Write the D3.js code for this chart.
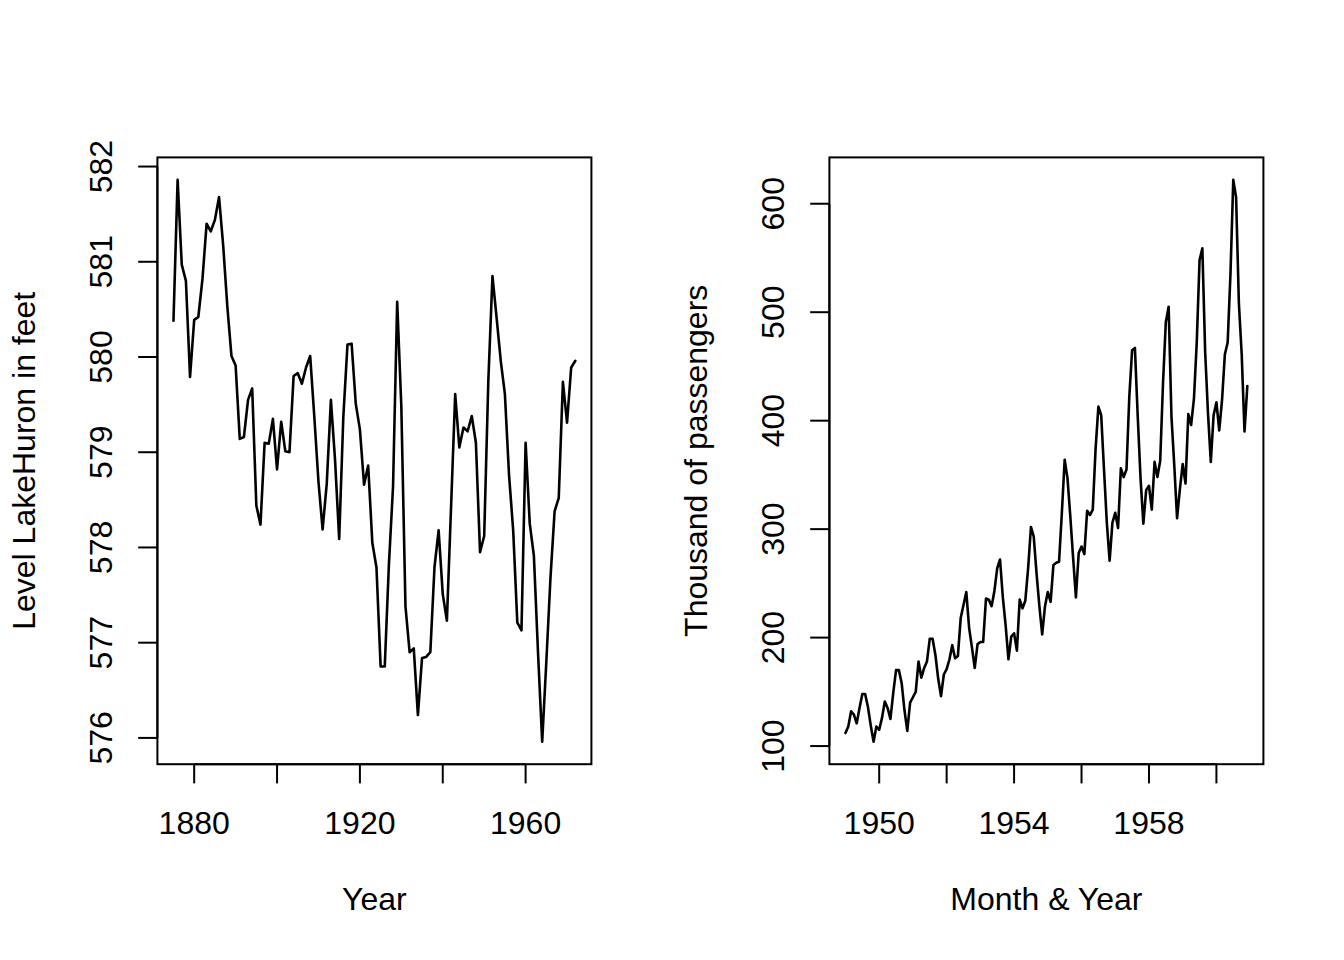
<!DOCTYPE html>
<html lang="en">
<head>
<meta charset="UTF-8">
<title>LakeHuron and AirPassengers</title>
<script src="https://d3js.org/d3.v7.min.js"></script>
<style>
  body { margin: 0; background: #fff; }
  svg { font-family: "Liberation Sans", Arial, sans-serif; }
  .frame { fill: none; stroke: #000; stroke-width: 2px; }
  .tick { stroke: #000; stroke-width: 2px; }
  .series { fill: none; stroke: #000; stroke-width: 2.6px; stroke-linejoin: round; stroke-linecap: round; }
  text { font-size: 32px; fill: #000; }
</style>
</head>
<body>
<div id="chart"></div>
<script>
// Lake Huron level, one value per year from 1875
var huronStart = 1875;
var huronLevel = [
  580.38, 581.86, 580.97, 580.80, 579.79, 580.39, 580.42, 580.82, 581.40, 581.32,
  581.44, 581.68, 581.17, 580.53, 580.01, 579.91, 579.14, 579.16, 579.55, 579.67,
  578.44, 578.24, 579.10, 579.09, 579.35, 578.82, 579.32, 579.01, 579.00, 579.80,
  579.83, 579.72, 579.89, 580.01, 579.37, 578.69, 578.19, 578.67, 579.55, 578.92,
  578.09, 579.37, 580.13, 580.14, 579.51, 579.24, 578.66, 578.86, 578.05, 577.79,
  576.75, 576.75, 577.82, 578.64, 580.58, 579.48, 577.38, 576.90, 576.94, 576.24,
  576.84, 576.85, 576.90, 577.79, 578.18, 577.51, 577.23, 578.42, 579.61, 579.05,
  579.26, 579.22, 579.38, 579.10, 577.95, 578.12, 579.75, 580.85, 580.41, 579.96,
  579.61, 578.76, 578.18, 577.21, 577.13, 579.10, 578.25, 577.91, 576.89, 575.96,
  576.80, 577.68, 578.38, 578.52, 579.74, 579.31, 579.89, 579.96
];
var huronXTicks = [1880, 1900, 1920, 1940, 1960];
var huronXLabels = ["1880", "", "1920", "", "1960"];
var huronYTicks = [576, 577, 578, 579, 580, 581, 582];

// Monthly airline passengers (thousands), from January 1949
var airStart = 1949;
var airPassengers = [
  112, 118, 132, 129, 121, 135, 148, 148, 136, 119, 104, 118,
  115, 126, 141, 135, 125, 149, 170, 170, 158, 133, 114, 140,
  145, 150, 178, 163, 172, 178, 199, 199, 184, 162, 146, 166,
  171, 180, 193, 181, 183, 218, 230, 242, 209, 191, 172, 194,
  196, 196, 236, 235, 229, 243, 264, 272, 237, 211, 180, 201,
  204, 188, 235, 227, 234, 264, 302, 293, 259, 229, 203, 229,
  242, 233, 267, 269, 270, 315, 364, 347, 312, 274, 237, 278,
  284, 277, 317, 313, 318, 374, 413, 405, 355, 306, 271, 306,
  315, 301, 356, 348, 355, 422, 465, 467, 404, 347, 305, 336,
  340, 318, 362, 348, 363, 435, 491, 505, 404, 359, 310, 337,
  360, 342, 406, 396, 420, 472, 548, 559, 463, 407, 362, 405,
  417, 391, 419, 461, 472, 535, 622, 606, 508, 461, 390, 432
];
var airXTicks = [1950, 1952, 1954, 1956, 1958, 1960];
var airXLabels = ["1950", "", "1954", "", "1958", ""];
var airYTicks = [100, 200, 300, 400, 500, 600];

var width = 1344, height = 960;
var panelW = width / 2;
var margin = { top: 157.4, right: 80.6, bottom: 195.8, left: 157.4 };
var plotW = panelW - margin.left - margin.right;
var plotH = height - margin.top - margin.bottom;

var svg = d3.select("#chart").append("svg")
  .attr("width", width)
  .attr("height", height);

// pad a range by 4% on each side, like R does
function padded(ext) {
  var d = (ext[1] - ext[0]) * 0.04;
  return [ext[0] - d, ext[1] + d];
}

function drawPanel(offsetX, pts, xTicks, xLabels, yTicks, xTitle, yTitle) {
  var g = svg.append("g").attr("transform", "translate(" + (offsetX + margin.left) + "," + margin.top + ")");

  var x = d3.scaleLinear().domain(padded(d3.extent(pts, function(d) { return d[0]; }))).range([0, plotW]);
  var y = d3.scaleLinear().domain(padded(d3.extent(pts, function(d) { return d[1]; }))).range([plotH, 0]);

  var line = d3.line()
    .x(function(d) { return x(d[0]); })
    .y(function(d) { return y(d[1]); });

  g.append("path").attr("class", "series").attr("d", line(pts));

  g.append("rect").attr("class", "frame")
    .attr("x", 0).attr("y", 0).attr("width", plotW).attr("height", plotH);

  // x axis
  var xa = g.append("g").attr("transform", "translate(0," + plotH + ")");
  xa.append("line").attr("class", "tick")
    .attr("x1", x(xTicks[0])).attr("x2", x(xTicks[xTicks.length - 1]));
  xTicks.forEach(function(t, i) {
    xa.append("line").attr("class", "tick")
      .attr("x1", x(t)).attr("x2", x(t)).attr("y1", 0).attr("y2", 19.2);
    if (xLabels[i]) {
      xa.append("text").attr("x", x(t)).attr("y", 70)
        .attr("text-anchor", "middle").text(xLabels[i]);
    }
  });

  // y axis
  var ya = g.append("g");
  ya.append("line").attr("class", "tick")
    .attr("y1", y(yTicks[0])).attr("y2", y(yTicks[yTicks.length - 1]));
  yTicks.forEach(function(t) {
    ya.append("line").attr("class", "tick")
      .attr("x1", 0).attr("x2", -19.2).attr("y1", y(t)).attr("y2", y(t));
    ya.append("text")
      .attr("transform", "translate(-45," + y(t) + ") rotate(-90)")
      .attr("text-anchor", "middle").text(t);
  });

  g.append("text").attr("x", plotW / 2).attr("y", plotH + 146)
    .attr("text-anchor", "middle").text(xTitle);

  g.append("text")
    .attr("transform", "translate(-122," + (plotH / 2) + ") rotate(-90)")
    .attr("text-anchor", "middle").text(yTitle);
}

var huronPts = huronLevel.map(function(v, i) { return [huronStart + i, v]; });
var airPts = airPassengers.map(function(v, i) { return [airStart + i / 12, v]; });

drawPanel(0, huronPts, huronXTicks, huronXLabels, huronYTicks, "Year", "Level LakeHuron in feet");
drawPanel(panelW, airPts, airXTicks, airXLabels, airYTicks, "Month & Year", "Thousand of passengers");
</script>
</body>
</html>
